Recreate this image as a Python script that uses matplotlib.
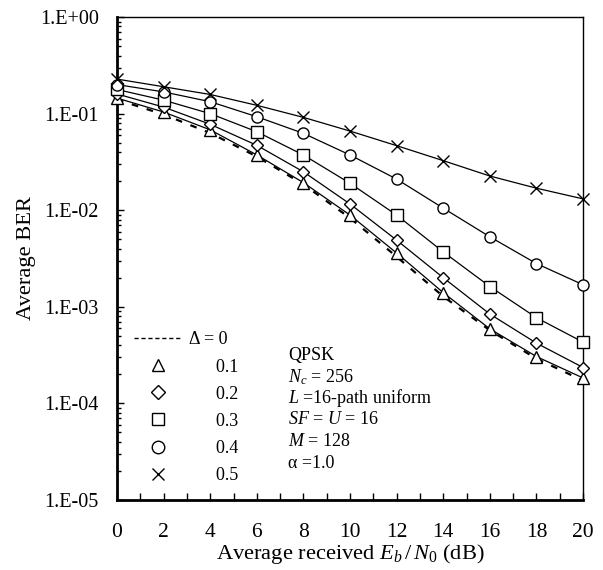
import numpy as np
import matplotlib
matplotlib.use("Agg")
import matplotlib.pyplot as plt
from matplotlib.lines import Line2D
from matplotlib.ticker import FixedLocator, LogLocator, MultipleLocator, NullFormatter

plt.rcParams['font.family'] = ['Liberation Serif', 'DejaVu Serif']
plt.rcParams['mathtext.fontset'] = 'custom'
plt.rcParams['mathtext.rm'] = 'Liberation Serif'
plt.rcParams['mathtext.it'] = 'Liberation Serif:italic'

snr = [0, 2, 4, 6, 8, 10, 12, 14, 16, 18, 20]
ber_d0 = [0.140, 0.098, 0.063, 0.036, 0.0185, 0.0083, 0.0033, 0.00128, 0.00057, 0.00029, 0.000172]
ber_01 = [0.145, 0.104, 0.068, 0.0374, 0.0193, 0.0089, 0.0036, 0.0014, 0.00059, 0.000305, 0.000183]
ber_02 = [0.160, 0.117, 0.0776, 0.047, 0.025, 0.0116, 0.0049, 0.0020, 0.00084, 0.00042, 0.000235]
ber_03 = [0.178, 0.138, 0.100, 0.065, 0.0373, 0.019, 0.0089, 0.0037, 0.00162, 0.00077, 0.00043]
ber_04 = [0.200, 0.168, 0.133, 0.093, 0.0625, 0.0373, 0.021, 0.0105, 0.0053, 0.0028, 0.00169]
ber_05 = [0.228, 0.190, 0.158, 0.122, 0.0915, 0.066, 0.0466, 0.0326, 0.0226, 0.0169, 0.0131]

deltas = ['0.1', '0.2', '0.3', '0.4', '0.5']
markers = ['^', 'D', 's', 'o', 'x']
msizes = [8, 6, 8, 8, 8]
series = [ber_01, ber_02, ber_03, ber_04, ber_05]

ytick_vals = [1e-5, 1e-4, 1e-3, 1e-2, 1e-1, 1e0]
ytick_labels = ['1.E-05', '1.E-04', '1.E-03', '1.E-02', '1.E-01', '1.E+00']

params = ['QPSK', '$N_c$ = 256', '$L$ =16-path uniform', '$SF$ = $U$ = 16', '$M$ = 128', '\u03b1 =1.0']

fig = plt.figure(figsize=(6.03, 5.70), dpi=100)
ax = fig.add_axes([0.194, 0.123, 0.773, 0.847])

ax.plot(snr, ber_d0, color='black', linestyle=(0, (3, 4)), linewidth=1.6, zorder=2)
for vals, m, ms in zip(series, markers, msizes):
    ax.plot(snr, vals, color='black', linewidth=0.9, marker=m, markersize=ms,
            markerfacecolor='white', markeredgecolor='black', markeredgewidth=1.0,
            clip_on=False, zorder=3)

ax.set_yscale('log')
ax.set_ylim(1e-5, 1)
ax.set_xlim(0, 20)
ax.yaxis.set_major_locator(FixedLocator(ytick_vals))
ax.set_yticklabels(ytick_labels)
ax.yaxis.set_minor_locator(LogLocator(base=10, subs=np.arange(2, 10), numticks=20))
ax.yaxis.set_minor_formatter(NullFormatter())
ax.xaxis.set_major_locator(MultipleLocator(2))
ax.xaxis.set_minor_locator(MultipleLocator(1))

ax.tick_params(axis='y', which='major', direction='in', length=5, width=1, labelsize=14.5, pad=13)
ax.tick_params(axis='y', which='minor', direction='in', length=3, width=1)
ax.tick_params(axis='x', which='both', direction='in', length=5, width=1, labelsize=15.5, pad=16.5)

for side in ['left', 'bottom']:
    ax.spines[side].set_linewidth(2)
for side in ['top', 'right']:
    ax.spines[side].set_linewidth(1)

ax.set_xlabel('Average received $E_b\\,/\\,N_0$ (dB)', fontsize=16.2, labelpad=0)
ax.set_ylabel('Average BER', fontsize=16.2, labelpad=3)

handles = [Line2D([], [], color='black', linestyle=(0, (3, 2)), linewidth=1)]
labels = ['\u0394 = 0']
for m, ms in zip(markers, msizes):
    handles.append(Line2D([], [], linestyle='none', marker=m, markersize=ms + 1,
                          markerfacecolor='white', markeredgecolor='black'))
for d in deltas:
    labels.append('      ' + d)
ax.legend(handles, labels, loc='upper left', bbox_to_anchor=(0.037, 0.349),
          frameon=False, fontsize=13, handlelength=2.6, handletextpad=0.45,
          labelspacing=0.56, borderpad=0, borderaxespad=0)

for i, t in enumerate(params):
    ax.text(0.367, 0.30 - i * 0.0448, t, transform=ax.transAxes, fontsize=13,
            va='center', ha='left')

fig.savefig('out.png', dpi=100)
